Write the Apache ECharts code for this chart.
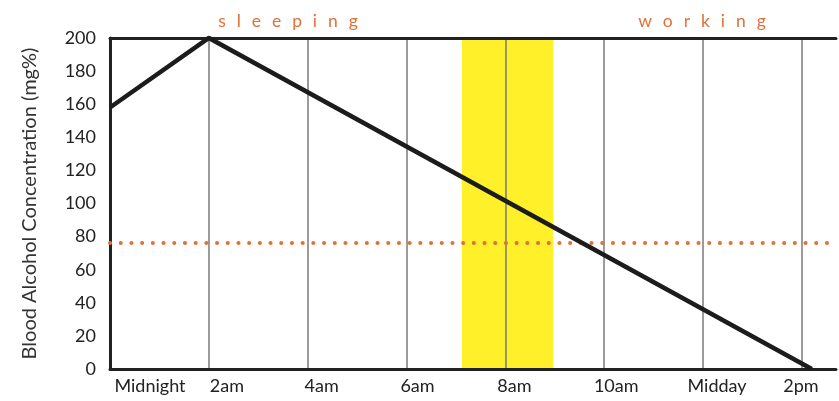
<!DOCTYPE html>
<html>
<head>
<meta charset="utf-8">
<script src="https://cdn.jsdelivr.net/npm/echarts@6/dist/echarts.min.js"></script>
<style>
  html, body { margin: 0; padding: 0; background: #fff; }
  #chart { width: 839px; height: 401px; }
</style>
</head>
<body>
<div id="chart"></div>
<script>
// ---- data ----
const hours = [0, 2, 14.2];              // hours after midnight
const bac = [158, 200, 0];               // blood alcohol concentration (mg%)
const tickHours = [0, 2, 4, 6, 8, 10, 12, 14];
const tickLabels = ['Midnight', '2am', '4am', '6am', '8am', '10am', 'Midday', '2pm'];
const legalLimit = 76;
const commuteBand = [7.12, 8.97];
const periodTexts = ['sleeping', 'working'];
const yTitle = 'Blood Alcohol Concentration (mg%)';

// ---- style config ----
const FONT = 'Lato';
const labelShift = [40, 18, 14, 11, 9, 12, 14, -1];
const xMax = 14.69;

const rich = {};
tickLabels.forEach((t, i) => {
  const s = labelShift[i];
  rich['s' + i] = {
    fontFamily: FONT, fontSize: 18, color: '#222',
    padding: s >= 0 ? [0, 0, 0, 2 * s] : [0, -2 * s, 0, 0]
  };
});

function spaced(t) { return t.split('').join('\u2002\u2009'); }

const chart = echarts.init(document.getElementById('chart'), null, { renderer: 'canvas' });
chart.setOption({
  animation: false,
  backgroundColor: '#fff',
  grid: { left: 110, right: 0, top: 38, bottom: 32, containLabel: false },
  xAxis: [{
    type: 'value', min: 0, max: xMax, interval: 2, position: 'bottom',
    axisLine: { show: true, lineStyle: { color: '#222', width: 3 } },
    axisTick: { show: false },
    splitLine: { show: true, showMinLine: false, showMaxLine: false, lineStyle: { color: '#7a7a7a', width: 1.5 } },
    axisLabel: {
      margin: 8,
      formatter: function (v) {
        const i = tickHours.indexOf(Math.round(v * 100) / 100);
        return i >= 0 ? '{s' + i + '|' + tickLabels[i] + '}' : '';
      },
      rich: rich
    }
  }, {
    type: 'value', min: 0, max: xMax, position: 'top',
    axisLine: { show: true, onZero: false, lineStyle: { color: '#222', width: 3 } },
    axisTick: { show: false }, axisLabel: { show: false }, splitLine: { show: false }
  }],
  yAxis: {
    type: 'value', min: 0, max: 200, interval: 20,
    name: yTitle, nameLocation: 'middle', nameGap: 70,
    nameTextStyle: { fontFamily: FONT, fontSize: 20, color: '#333' },
    axisLine: { show: true, lineStyle: { color: '#222', width: 3 } },
    axisTick: { show: false },
    splitLine: { show: false },
    axisLabel: { fontFamily: FONT, fontSize: 18, color: '#222', margin: 14 }
  },
  series: [{
    type: 'line', data: [], z: -1, silent: true,
    markArea: {
      silent: true, z: -1,
      itemStyle: { color: '#FFF02A' },
      data: [[{ xAxis: commuteBand[0] }, { xAxis: commuteBand[1] }]]
    }
  }, {
    type: 'line',
    data: hours.map((h, i) => [h, bac[i]]),
    showSymbol: false, symbol: 'none',
    lineStyle: { color: '#1c1c1c', width: 4.5, join: 'miter' },
    z: 5,
    markLine: {
      silent: true, symbol: 'none', label: { show: false },
      lineStyle: { color: '#E0713A', width: 4, type: [0.1, 10.6], cap: 'round' },
      data: [{ yAxis: legalLimit }]
    }
  }],
  graphic: [
    { type: 'text', x: 288, y: 21, style: { text: spaced(periodTexts[0]), fontFamily: FONT, fontSize: 17.5, fill: '#E0713A', align: 'center', verticalAlign: 'middle' } },
    { type: 'text', x: 702, y: 21, style: { text: spaced(periodTexts[1]), fontFamily: FONT, fontSize: 17.5, fill: '#E0713A', align: 'center', verticalAlign: 'middle' } }
  ]
});
</script>
</body>
</html>
